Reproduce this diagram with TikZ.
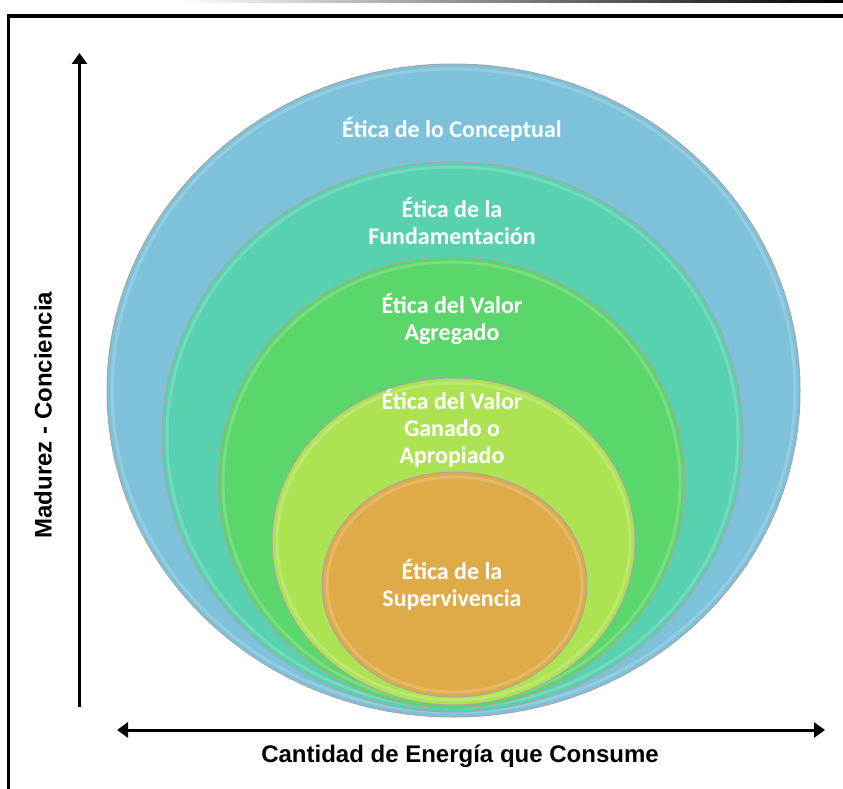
\documentclass[tikz,border=0pt]{standalone}
\usepackage{fontspec}
\usetikzlibrary{shapes.geometric,arrows.meta}
\newfontfamily\labfont{Carlito}
\newfontfamily\axfont{Liberation Sans}
\definecolor{cBlue}{HTML}{7DC2DA}
\definecolor{cTeal}{HTML}{57D1AF}
\definecolor{cGreen}{HTML}{5BD66B}
\definecolor{cYellow}{HTML}{ADE352}
\definecolor{cOrange}{HTML}{DFAB48}
\tikzset{
  ring/.style={ellipse, inner sep=0pt, draw=black!35, line width=1pt},
  glow/.style={ellipse, inner sep=0pt, draw=white, opacity=0.18, line width=3pt},
  lab/.style={text=white, font=\labfont\bfseries\fontsize{24}{27}\selectfont, align=center},
  axlab/.style={text=black, font=\axfont\bfseries\fontsize{24}{28}\selectfont},
  axarrow/.style={line width=3.5pt, -{Triangle[length=11pt,width=15pt]}},
  axarrow2/.style={line width=3pt, {Triangle[length=11pt,width=15pt]}-{Triangle[length=11pt,width=15pt]}}
}
\begin{document}
\begin{tikzpicture}[x=1pt,y=-1pt]
\useasboundingbox (0,0) rectangle (843,789);
% frame
\shade[left color=white, right color=black] (180,0) rectangle (843,2.5);
\draw[line width=3.5pt] (8.5,789) -- (8.5,16) -- (843,16);
% ellipses
\node[ring, fill=cBlue, minimum width=693pt, minimum height=653pt] (e1) at (453.5,390.5) {};
\node[glow, minimum width=683pt, minimum height=643pt] (g1) at (453.5,390.5) {};
\node[ring, fill=cTeal, minimum width=581pt, minimum height=550pt] (e2) at (452.5,437) {};
\node[glow, minimum width=571pt, minimum height=540pt] (g2) at (452.5,437) {};
\node[ring, fill=cGreen, minimum width=467pt, minimum height=451pt] (e3) at (451.5,482.5) {};
\node[glow, minimum width=457pt, minimum height=441pt] (g3) at (451.5,482.5) {};
\node[ring, fill=cYellow, minimum width=363pt, minimum height=327pt] (e4) at (453.5,541.5) {};
\node[glow, minimum width=353pt, minimum height=317pt] (g4) at (453.5,541.5) {};
\node[ring, fill=cOrange, minimum width=265pt, minimum height=225pt] (e5) at (454.5,584.5) {};
\node[glow, minimum width=255pt, minimum height=215pt] (g5) at (454.5,584.5) {};
% labels
\node[lab] (t1) at (452,129) {Ética de lo Conceptual};
\node[lab] (t2) at (452,221.5) {Ética de la\\Fundamentación};
\node[lab] (t3) at (452,318.5) {Ética del Valor\\Agregado};
\node[lab] (t4) at (452,428) {Ética del Valor\\Ganado o\\Apropiado};
\node[lab] (t5) at (452,584.5) {Ética de la\\Supervivencia};
% axes
\coordinate (vb) at (79.5,707);
\coordinate (vt) at (79.5,53);
\coordinate (hl) at (117,730);
\coordinate (hr) at (825,730);
\draw[axarrow] (vb) -- (vt);
\draw[axarrow2] (hl) -- (hr);
\node[axlab] (xl) at (460,756) {Cantidad de Energía que Consume};
\node[axlab, rotate=90] (yl) at (43,415) {Madurez - Conciencia};
\end{tikzpicture}
\end{document}
